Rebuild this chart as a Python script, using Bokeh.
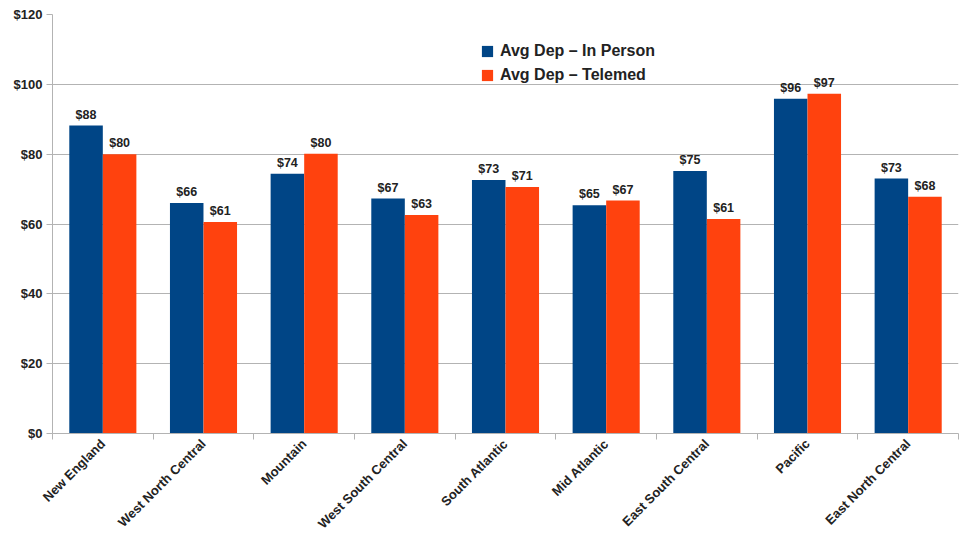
from bokeh.plotting import figure
from bokeh.models import ColumnDataSource, FixedTicker, NumeralTickFormatter, Range1d, Legend, LegendItem
from bokeh.transform import dodge
from bokeh.core.properties import value
from bokeh.embed import file_html
from bokeh.resources import INLINE

regions = ["New England", "West North Central", "Mountain", "West South Central",
           "South Atlantic", "Mid Atlantic", "East South Central", "Pacific", "East North Central"]
in_person = [88.2, 66.0, 74.4, 67.3, 72.6, 65.4, 75.2, 95.9, 73.0]
telemed = [80.0, 60.6, 80.1, 62.6, 70.6, 66.7, 61.4, 97.3, 67.8]
y_ticks = [0, 20, 40, 60, 80, 100, 120]

BLUE = "#004586"
ORANGE = "#ff420e"
FONT = "Liberation Sans"

pos = list(range(1, len(regions) + 1))
src = ColumnDataSource(dict(
    x=pos,
    a=in_person,
    b=telemed,
    la=["$%d" % round(v) for v in in_person],
    lb=["$%d" % round(v) for v in telemed],
))

p = figure(width=959, height=539, output_backend="svg", toolbar_location=None,
           x_range=Range1d(0.5, len(regions) + 0.5), y_range=Range1d(0, 120),
           min_border_left=52, min_border_right=1, min_border_top=14, min_border_bottom=106)
p.outline_line_color = None

r1 = p.vbar(x=dodge("x", -0.1667, range=p.x_range), top="a", width=0.333, source=src,
            fill_color=BLUE, line_color=None)
r2 = p.vbar(x=dodge("x", 0.1667, range=p.x_range), top="b", width=0.333, source=src,
            fill_color=ORANGE, line_color=None)

for col, ycol, off in (("la", "a", -0.1667), ("lb", "b", 0.1667)):
    p.text(x=dodge("x", off, range=p.x_range), y=ycol, text=col, source=src,
           text_align="center", text_baseline="bottom", y_offset=-4,
           text_font=value(FONT), text_font_style="bold", text_font_size="12.5px",
           text_color="#222222")

# Axes
p.xaxis.ticker = FixedTicker(ticks=pos, minor_ticks=[i + 0.5 for i in range(len(regions) + 1)])
p.xaxis.major_label_overrides = {i: name for i, name in zip(pos, regions)}
p.xaxis.major_label_orientation = 0.785398
p.xaxis.major_tick_out = 0
p.xaxis.major_tick_in = 0
p.xaxis.minor_tick_out = 6
p.xaxis.minor_tick_in = 0
p.xaxis.minor_tick_line_color = "#b3b3b3"
p.xaxis.axis_line_color = "#b3b3b3"
p.xaxis.major_label_text_font = FONT
p.xaxis.major_label_text_font_style = "bold"
p.xaxis.major_label_text_font_size = "13px"
p.xaxis.major_label_text_color = "#222222"
p.xaxis.major_label_standoff = 2

p.yaxis.ticker = FixedTicker(ticks=y_ticks)
p.yaxis.formatter = NumeralTickFormatter(format="$0")
p.yaxis.major_tick_out = 6
p.yaxis.major_tick_in = 0
p.yaxis.minor_tick_line_color = None
p.yaxis.major_tick_line_color = "#b3b3b3"
p.yaxis.axis_line_color = "#b3b3b3"
p.yaxis.major_label_text_font = FONT
p.yaxis.major_label_text_font_style = "bold"
p.yaxis.major_label_text_font_size = "13px"
p.yaxis.major_label_text_color = "#222222"
p.yaxis.major_label_standoff = 4

p.xgrid.grid_line_color = None
p.ygrid.grid_line_color = "#b3b3b3"
p.ygrid.grid_line_width = 1

legend = Legend(items=[LegendItem(label="Avg Dep \u2013 In Person", renderers=[r1]),
                       LegendItem(label="Avg Dep \u2013 Telemed", renderers=[r2])],
                location=(428, 349), background_fill_alpha=0, border_line_color=None,
                label_text_font=FONT, label_text_font_style="bold", label_text_font_size="16px",
                label_text_color="#222222", glyph_width=14, glyph_height=14, spacing=6,
                padding=4, label_standoff=6)
p.add_layout(legend)

open("out.html", "w").write(file_html(p, INLINE))
